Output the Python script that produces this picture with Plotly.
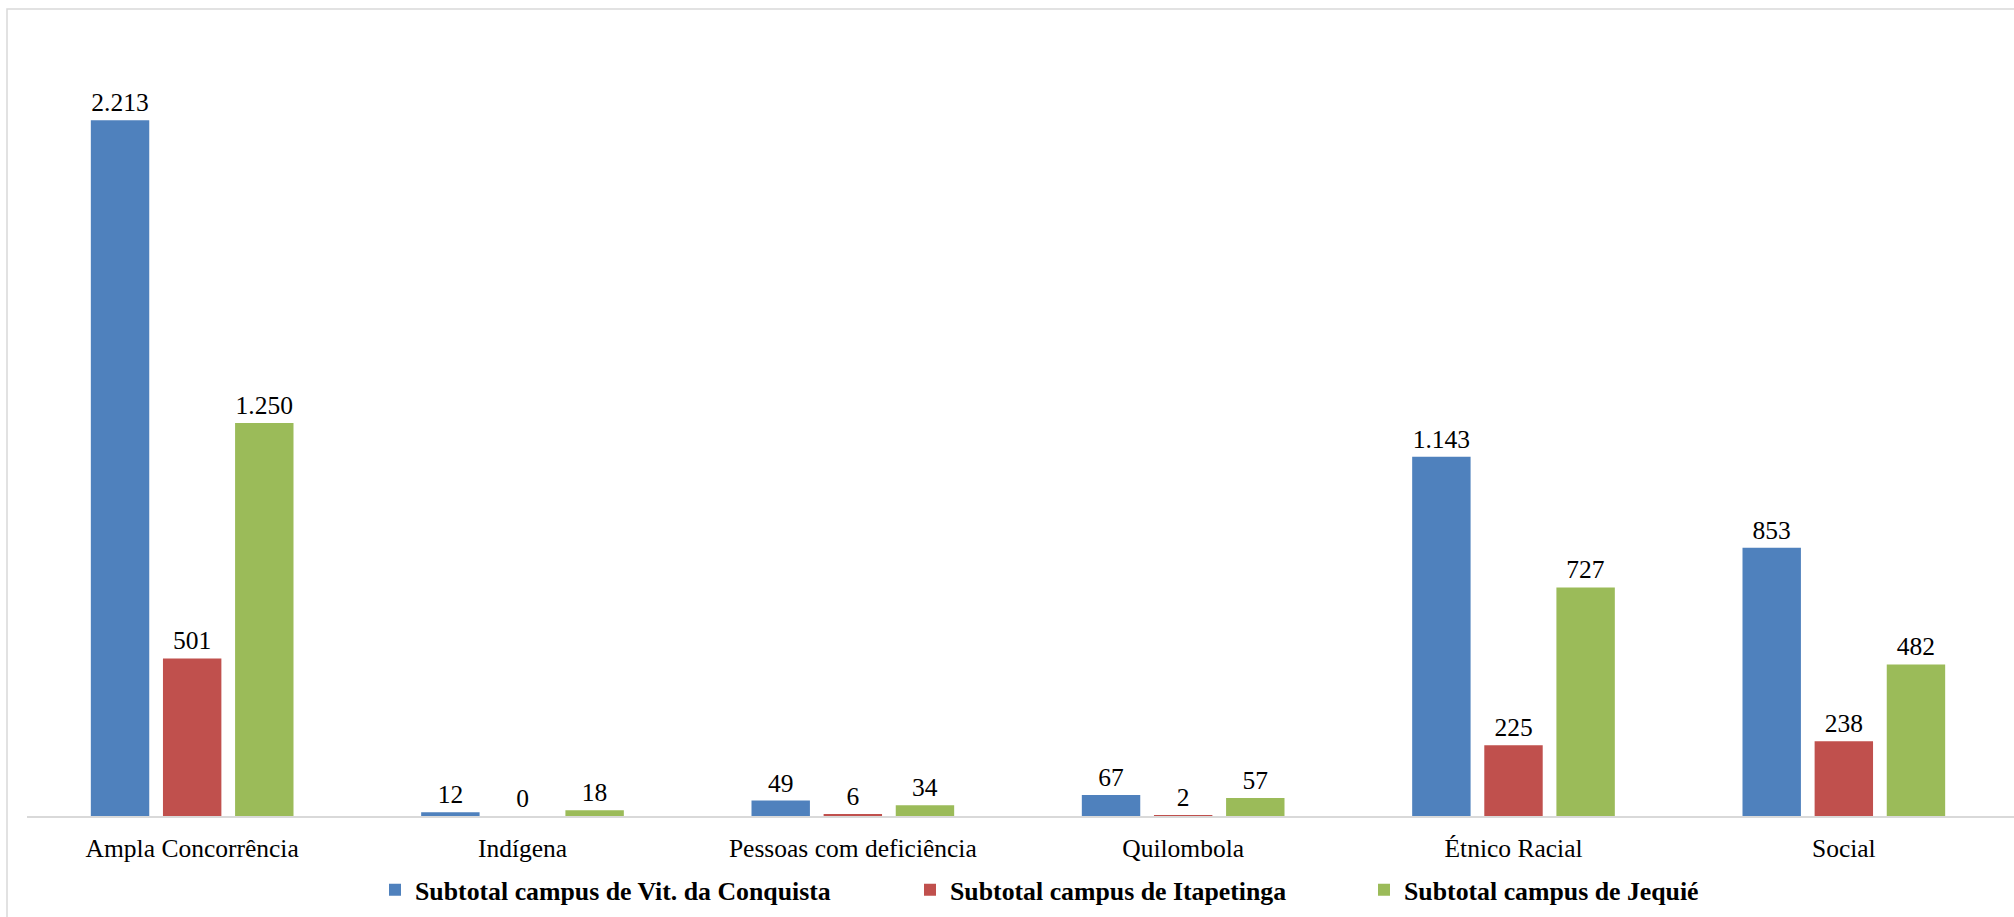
import plotly.graph_objects as go

categories = ["Ampla Concorrência", "Indígena", "Pessoas com deficiência",
              "Quilombola", "Étnico Racial", "Social"]
vit_conquista = [2213, 12, 49, 67, 1143, 853]
itapetinga = [501, 0, 6, 2, 225, 238]
jequie = [1250, 18, 34, 57, 727, 482]
series_names = ["Subtotal campus de Vit. da Conquista",
                "Subtotal campus de Itapetinga",
                "Subtotal campus de Jequié"]
colors = ["#4F81BD", "#C0504D", "#9BBB59"]
legend_ids = ["legend", "legend2", "legend3"]

W, H = 2014, 917
ML, MR, MT, MB = 27, 0, 30, 101
PW = W - ML - MR
PH = H - MT - MB
FONT = "Liberation Serif"
FS = 25.5

fig = go.Figure()
for name, vals, col, lg in zip(series_names, [vit_conquista, itapetinga, jequie], colors, legend_ids):
    fig.add_trace(go.Bar(
        x=categories, y=vals, name=name, marker_color=col,
        marker_line_width=0,
        text=vals, texttemplate="%{y:,}", textposition="outside",
        textfont=dict(family=FONT, size=FS, color="#000000"),
        cliponaxis=False, legend=lg,
    ))

# legend item anchor positions (px)
leg_px = [389, 924, 1378]
leg_y = (MT + PH - 890) / PH
legends = {}
for lg, px in zip(legend_ids, leg_px):
    legends[lg] = dict(
        x=(px - 14 - ML) / PW, xanchor="left", y=leg_y, yanchor="middle",
        orientation="h", bgcolor="rgba(0,0,0,0)", borderwidth=0,
        font=dict(family=FONT, size=25.8, color="#000000", weight="bold"),
    )

fig.update_layout(
    width=W, height=H,
    margin=dict(l=ML, r=MR, t=MT, b=MB, autoexpand=False),
    paper_bgcolor="white", plot_bgcolor="white",
    font=dict(family=FONT, size=FS, color="#000000"),
    separators=",.",
    barmode="group", bargap=0.345, bargroupgap=0.19,
    showlegend=True,
    xaxis=dict(
        range=[-0.5, 5.5 + 5 / 330.3],
        showline=True, linecolor="#d9d9d9", linewidth=2,
        showgrid=False, zeroline=False, ticks="",
        tickfont=dict(family=FONT, size=FS, color="#000000"),
        ticklabelstandoff=8,
    ),
    yaxis=dict(range=[0, 2500], visible=False, showgrid=False, zeroline=False),
    **legends,
)

# outer chart frame (light gray)
fig.add_shape(type="rect", xref="paper", yref="paper",
              x0=(7 - ML) / PW, x1=(W + 10 - ML) / PW,
              y0=(MT + PH - H - 10) / PH, y1=(MT + PH - 9) / PH,
              line=dict(color="#d9d9d9", width=1.5), fillcolor="rgba(0,0,0,0)",
              layer="below")

fig.write_html("out.html",
               config={"displayModeBar": False},
               post_script="document.body.style.margin='0';document.body.style.overflow='hidden';")
